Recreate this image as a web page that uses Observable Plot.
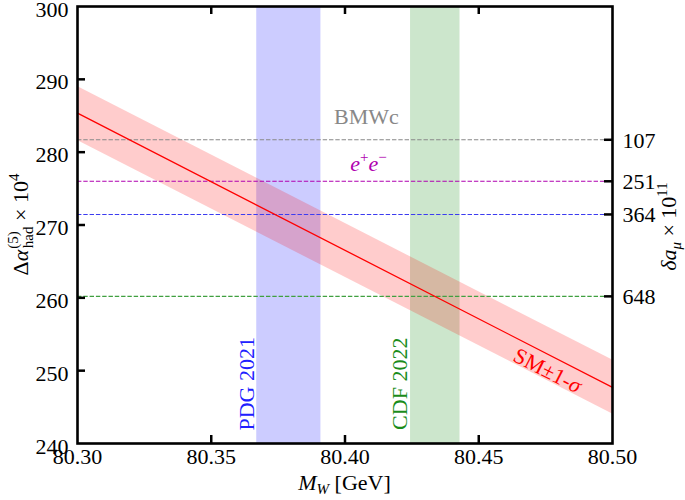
<!DOCTYPE html>
<html><head><meta charset="utf-8">
<script src="https://cdn.jsdelivr.net/npm/d3@7"></script>
<script src="https://cdn.jsdelivr.net/npm/@observablehq/plot@0.6"></script>
<style>body{margin:0;background:#fff}</style>
</head><body><div id="chart"></div>
<script>
// ---- data ----
const xDomain = [80.30, 80.50];
const yDomain = [240, 300];
const xTickValues = [80.30, 80.35, 80.40, 80.45, 80.50];
const xInnerTicks = [80.35, 80.40, 80.45];
const yTickValues = [240, 250, 260, 270, 280, 290, 300];
const yInnerTicks = [250, 260, 270, 280, 290];

// SM prediction band (Δα_had vs M_W)
const smX = [80.30, 80.50];
const smCentral = [285.35, 247.7];
const smLow = [281.6, 244.05];
const smHigh = [289.0, 251.45];

// M_W measurement bands
const bandNames = ["PDG 2021", "CDF 2022"];
const bandLo = [80.367, 80.4245];
const bandHi = [80.391, 80.4430];
const bandFill = ["blue", "green"];
const bandTextColor = ["#2020ff", "#1a8c1a"];
const bandLabelX = [80.3632, 80.4206];
const bandLabelY = [248.2, 248.2];

// horizontal reference values (δa_μ × 10^11)
const refNames = ["BMWc", "e+e-", "PDG", "CDF"];
const refY = [281.7, 276.0, 271.45, 260.2];
const refLabels = ["107", "251", "364", "648"];
const refColors = ["#888888", "#b000b0", "#3c3cf0", "#40a040"];

// ---- tables ----
const sm = smX.map((x, i) => ({x, central: smCentral[i], low: smLow[i], high: smHigh[i]}));
const bands = bandNames.map((name, i) => ({name, lo: bandLo[i], hi: bandHi[i], fill: bandFill[i],
  tc: bandTextColor[i], lx: bandLabelX[i], ly: bandLabelY[i]}));
const refs = refNames.map((name, i) => ({name, y: refY[i], label: refLabels[i], color: refColors[i]}));

const W = 685, H = 500;
const mL = 77, mR = 73, mT = 6, mB = 57;
const innerW = W - mL - mR, innerH = H - mT - mB;
const FONT = "'Liberation Serif', 'DejaVu Serif', serif";
const FS = 22, FSS = 15;

const plot = Plot.plot({
  width: W, height: H,
  marginLeft: mL, marginRight: mR, marginTop: mT, marginBottom: mB,
  x: {domain: xDomain},
  y: {domain: yDomain},
  color: {type: "identity"},
  style: {fontFamily: FONT, fontSize: FS + "px", color: "black", background: "white", overflow: "visible"},
  marks: [
    Plot.rect(bands, {x1: "lo", x2: "hi", fill: "fill", fillOpacity: 0.2}),
    Plot.areaY(sm, {x: "x", y1: "low", y2: "high", fill: "red", fillOpacity: 0.2}),
    Plot.ruleY(refs, {y: "y", stroke: "color", strokeWidth: 1.1, strokeDasharray: "4.4,1.9"}),
    Plot.line(sm, {x: "x", y: "central", stroke: "red", strokeWidth: 1.3}),
    Plot.text(bands, {x: "lx", y: "ly", text: "name", rotate: -90, fill: "tc", fontSize: FS}),
    Plot.text([refs[0]], {x: [80.408], y: [284.9], text: "name", fill: "#888888", fontSize: FS}),
    Plot.axisX({ticks: xTickValues, tickFormat: d => d.toFixed(2), tickSize: 0, tickPadding: 5, label: null, fontSize: FS}),
    Plot.axisY({ticks: yTickValues, tickFormat: d => String(d), tickSize: 0, tickPadding: 9, dy: 3, label: null, fontSize: FS}),
    Plot.text(refs, {y: "y", text: "label", frameAnchor: "right", dx: 10, dy: 1, textAnchor: "start", fontSize: FS}),
    // inward ticks
    Plot.tickX(xInnerTicks, {x: d => d, insetTop: innerH - 8, strokeWidth: 2.5, stroke: "black"}),
    Plot.tickX(xInnerTicks, {x: d => d, insetBottom: innerH - 8, strokeWidth: 2.5, stroke: "black"}),
    Plot.tickY(yInnerTicks, {y: d => d, insetRight: innerW - 8, strokeWidth: 2.5, stroke: "black"}),
    Plot.tickY(refY, {y: d => d, insetLeft: innerW - 8, strokeWidth: 2.5, stroke: "black"}),
    Plot.frame({stroke: "black", strokeWidth: 2.6})
  ]
});
document.getElementById("chart").appendChild(plot);

const sx = plot.scale("x"), sy = plot.scale("y");
const svg = d3.select(plot);

// left y label: Δα^(5)_had × 10^4
{
  const t = svg.append("text").attr("transform", `translate(28,${mT + innerH / 2}) rotate(-90)`)
    .attr("text-anchor", "middle").attr("font-family", FONT).attr("font-size", FS).attr("fill", "black");
  t.append("tspan").text("Δ");
  t.append("tspan").attr("font-style", "italic").text("α");
  t.append("tspan").attr("font-size", FSS).attr("dy", -10).attr("dx", 1).text("(5)");
  t.append("tspan").attr("font-size", FSS).attr("dx", -17).attr("dy", 15).text("had");
  t.append("tspan").attr("dy", -5).text(" × 10");
  t.append("tspan").attr("font-size", FSS).attr("dy", -9).text("4");
}
// right y label: δa_μ × 10^11
{
  const t = svg.append("text").attr("transform", `translate(676,${mT + innerH / 2 + 2}) rotate(-90)`)
    .attr("text-anchor", "middle").attr("font-family", FONT).attr("font-size", FS).attr("fill", "black");
  t.append("tspan").attr("font-style", "italic").text("δa");
  t.append("tspan").attr("font-style", "italic").attr("font-size", FSS).attr("dy", 5).text("μ");
  t.append("tspan").attr("dy", -5).text(" × 10");
  t.append("tspan").attr("font-size", FSS).attr("dy", -9).text("11");
}
// x label: M_W [GeV]
{
  const t = svg.append("text").attr("transform", `translate(${mL + innerW / 2},490)`)
    .attr("text-anchor", "middle").attr("font-family", FONT).attr("font-size", FS).attr("fill", "black");
  t.append("tspan").attr("font-style", "italic").text("M");
  t.append("tspan").attr("font-style", "italic").attr("font-size", FSS).attr("dy", 4).text("W");
  t.append("tspan").attr("dy", -4).text(" [GeV]");
}
// e+e- label
{
  const t = svg.append("text").attr("transform", `translate(${sx.apply(80.409)},${sy.apply(277.3)})`)
    .attr("text-anchor", "middle").attr("font-family", FONT).attr("font-size", FS).attr("fill", "#b000b0");
  t.append("tspan").attr("font-style", "italic").text("e");
  t.append("tspan").attr("font-size", FSS).attr("dy", -9).text("+");
  t.append("tspan").attr("font-style", "italic").attr("dy", 9).text("e");
  t.append("tspan").attr("font-size", FSS).attr("dy", -9).text("−");
}
// SM ± 1-σ label along the band
{
  const ang = Math.atan2(sy.apply(smCentral[1]) - sy.apply(smCentral[0]), sx.apply(smX[1]) - sx.apply(smX[0])) * 180 / Math.PI;
  const t = svg.append("text").attr("transform", `translate(${sx.apply(80.476)},${sy.apply(250.0)}) rotate(${ang})`)
    .attr("text-anchor", "middle").attr("dy", "0.35em").attr("font-family", FONT).attr("font-size", FS).attr("fill", "red");
  t.append("tspan").text("SM±1-");
  t.append("tspan").attr("font-style", "italic").text("σ");
}
</script>
</body></html>
